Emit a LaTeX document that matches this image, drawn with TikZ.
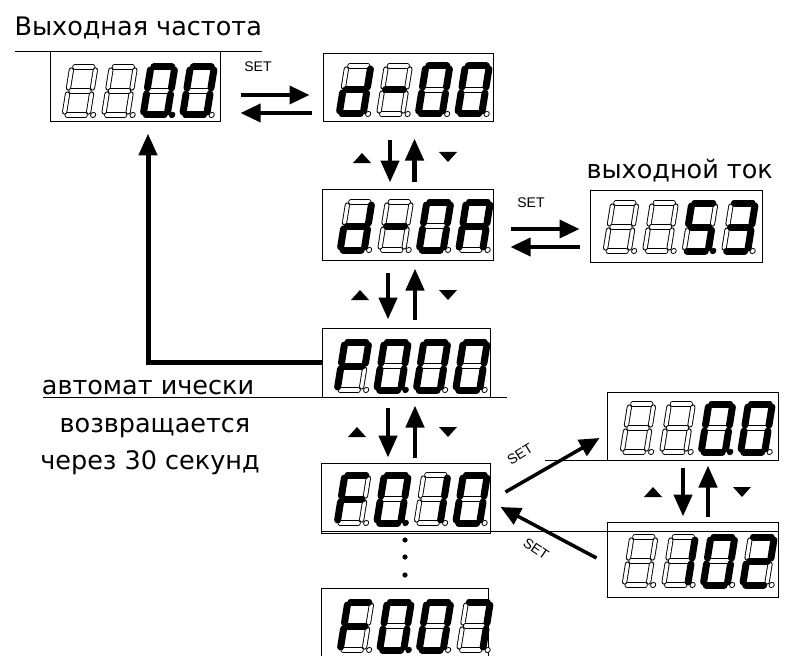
\documentclass[tikz,border=0pt]{standalone}
\usepackage{fontspec}
\setmainfont{DejaVu Sans}
\newfontfamily\setfont{Liberation Sans}
\usetikzlibrary{arrows.meta}

% segment paths of one digit, centre at (0,0), y downwards
\def\segpa{(-9,-24) -- (9,-24)}
\def\segpb{(12,-21) -- (12,-3)}
\def\segpc{(12,3) -- (12,21)}
\def\segpd{(-9,24) -- (9,24)}
\def\segpe{(-12,3) -- (-12,21)}
\def\segpf{(-12,-21) -- (-12,-3)}
\def\segpg{(-9,0) -- (9,0)}
\def\segpnone{}
% lit segments of each sign
\def\snone{none}
\def\szero{a,b,c,d,e,f}
\def\sone{b,c}
\def\stwo{a,b,g,e,d}
\def\sthree{a,b,g,c,d}
\def\sfive{a,f,g,c,d}
\def\sseven{a,b,c}
\def\sA{a,b,c,e,f,g}
\def\sP{a,b,e,f,g}
\def\sF{a,e,f,g}
\def\sd{b,c,d,e,g}
\def\sdash{g}

% centre x, centre y, lit segments, digit with lit point, own index
\newcommand\segdigit[5]{%
  \begin{scope}[shift={(#1,#2)}, xslant=0.16]
    \foreach \s in {a,b,c,d,e,f,g} {\draw[offseg] \csname segp\s\endcsname;}
    \foreach \s in #3 {\draw[onseg] \csname segp\s\endcsname;}
    \ifnum#4=#5 \fill (17,24) circle (3.2);
    \else \draw[line width=0.8pt, fill=white] (17,24) circle (2.6); \fi
  \end{scope}}
% first digit x, y, four signs, digit with lit point
\newcommand\showpanel[7]{%
  \segdigit{#1}{#2}{#3}{#7}{1}
  \segdigit{#1+39.5}{#2}{#4}{#7}{2}
  \segdigit{#1+79}{#2}{#5}{#7}{3}
  \segdigit{#1+118.5}{#2}{#6}{#7}{4}}
% small up and down keys
\newcommand\upkey[2]{\fill (#1-9,#2+5) -- (#1+9,#2+5) -- (#1,#2-5) -- cycle;}
\newcommand\downkey[2]{\fill (#1-9,#2-5) -- (#1+9,#2-5) -- (#1,#2+5) -- cycle;}

\begin{document}
\begin{tikzpicture}[x=1pt, y=-1pt,
    frame/.style={draw, line width=1pt, inner sep=0pt},
    offseg/.style={draw=black, line width=0.9pt, double=white, double distance=3.4pt, line cap=round},
    onseg/.style={line width=7pt, line cap=round},
    setarr/.style={line width=3.5pt, -{Triangle[length=20pt, width=18pt]}},
    keyarr/.style={line width=4.5pt, -{Triangle[length=22pt, width=18pt]}},
    backarr/.style={line width=5pt, -{Triangle[length=22pt, width=18pt]}},
    bigtxt/.style={font=\fontsize{25.5}{30}\selectfont},
    setlbl/.style={font=\setfont\fontsize{14}{16}\selectfont, inner sep=0pt}]
  \useasboundingbox (0,0) rectangle (799,655);

  % panels
  \node[frame, minimum width=170pt, minimum height=70pt] (freq) at (135,87) {};
  \node[frame, minimum width=170pt, minimum height=68pt] (dzero) at (408,88) {};
  \node[frame, minimum width=171pt, minimum height=71pt] (dfour) at (407.5,224.5) {};
  \node[frame, minimum width=172pt, minimum height=72pt] (curr) at (676,226) {};
  \node[frame, minimum width=168pt, minimum height=69pt] (pzero) at (406,362.5) {};
  \node[frame, minimum width=169pt, minimum height=70pt] (ften) at (405.5,498) {};
  \node[frame, minimum width=167pt, minimum height=72pt] (fseven) at (404.5,624) {};
  \node[frame, minimum width=171pt, minimum height=68pt] (val) at (692.5,426) {};
  \node[frame, minimum width=171pt, minimum height=75pt] (valb) at (692.5,559.5) {};
  \draw[line width=1pt] (15,52) -- (262,52);
  \draw[line width=1pt] (43,397) -- (507,397);
  \draw[line width=1pt] (321,531) -- (778,531);
  \draw[line width=1pt] (545,460) -- (607,460);

  % digits
  \showpanel{80}{91}{\snone}{\snone}{\szero}{\szero}{3}
  \showpanel{355}{90}{\sd}{\sdash}{\szero}{\szero}{0}
  \showpanel{356}{226}{\sd}{\sdash}{\szero}{\sA}{0}
  \showpanel{621}{227}{\snone}{\snone}{\sfive}{\sthree}{3}
  \showpanel{353}{366}{\sP}{\szero}{\szero}{\szero}{2}
  \showpanel{353}{499}{\sF}{\szero}{\sone}{\szero}{2}
  \showpanel{356}{626}{\sF}{\szero}{\szero}{\sseven}{2}
  \showpanel{638}{428}{\snone}{\snone}{\szero}{\szero}{3}
  \showpanel{640}{561}{\snone}{\sone}{\szero}{\stwo}{0}

  % texts
  \node[bigtxt, anchor=base west] (title) at (11,36) {Выходная частота};
  \node[bigtxt, anchor=base west] (curtxt) at (583,178) {выходной ток};
  \node[bigtxt, anchor=base] (auto) at (148,394) {автомат ически};
  \node[bigtxt, anchor=base] (ret) at (155,432) {возвращается};
  \node[bigtxt, anchor=base] (sec) at (150,469) {через 30 секунд};

  % SET
  \draw[setarr, shorten <=20pt, shorten >=13pt] ([yshift=-8pt]freq.east) -- ([yshift=-8pt]freq.east -| dzero.west);
  \draw[setarr, shorten <=11pt, shorten >=20pt] ([yshift=-25pt]dzero.west) -- ([yshift=-25pt]dzero.west -| freq.east);
  \node[setlbl] (seta) at (258,67) {SET};
  \draw[setarr, shorten <=17pt, shorten >=10pt] ([yshift=-4.5pt]dfour.east) -- ([yshift=-4.5pt]dfour.east -| curr.west);
  \draw[setarr, shorten <=10pt, shorten >=17pt] ([yshift=-21pt]curr.west) -- ([yshift=-21pt]curr.west -| dfour.east);
  \node[setlbl] (setb) at (531,203) {SET};
  \draw[setarr] ([shift={(15,-6)}]ften.east) -- ([shift={(-7,12)}]val.west);
  \node[setlbl, rotate=32] (setc) at (520,454) {SET};
  \draw[setarr] ([shift={(-10,-1.5)}]valb.west) -- ([shift={(10,9)}]ften.east);
  \node[setlbl, rotate=-34] (setd) at (536,549) {SET};

  % up and down
  \draw[keyarr, shorten <=18pt, shorten >=6pt] ([xshift=-18pt]dzero.south) -- ([xshift=-18pt]dzero.south |- dfour.north);
  \draw[keyarr, shorten <=7pt, shorten >=16pt] ([xshift=7pt]dfour.north) -- ([xshift=7pt]dfour.north |- dzero.south);
  \upkey{362}{158} \downkey{448}{157}
  \draw[keyarr, shorten <=12pt, shorten >=8pt] ([xshift=-19.5pt]dfour.south) -- ([xshift=-19.5pt]dfour.south |- pzero.north);
  \draw[keyarr, shorten <=8pt, shorten >=8pt] ([xshift=9pt]pzero.north) -- ([xshift=9pt]pzero.north |- dfour.south);
  \upkey{360}{295} \downkey{448}{295}
  \draw[keyarr, shorten <=10pt, shorten >=5pt] ([xshift=-18pt]pzero.south) -- ([xshift=-18pt]pzero.south |- ften.north);
  \draw[keyarr, shorten <=5pt, shorten >=8pt] ([xshift=9.5pt]ften.north) -- ([xshift=9.5pt]ften.north |- pzero.south);
  \upkey{357}{432} \downkey{448}{432}
  \draw[keyarr, shorten <=7pt, shorten >=5pt] ([xshift=-9.5pt]val.south) -- ([xshift=-9.5pt]val.south |- valb.north);
  \draw[keyarr, shorten <=5pt, shorten >=5pt] ([xshift=15.5pt]valb.north) -- ([xshift=15.5pt]valb.north |- val.south);
  \upkey{653}{492} \downkey{742}{492}

  % back after 30 s
  \draw[backarr, shorten >=11pt] (pzero.west) -| ([xshift=13pt]freq.south);

  % more panels below
  \foreach \y in {540,557,575} \fill (405,\y) circle (2.6);
\end{tikzpicture}
\end{document}
